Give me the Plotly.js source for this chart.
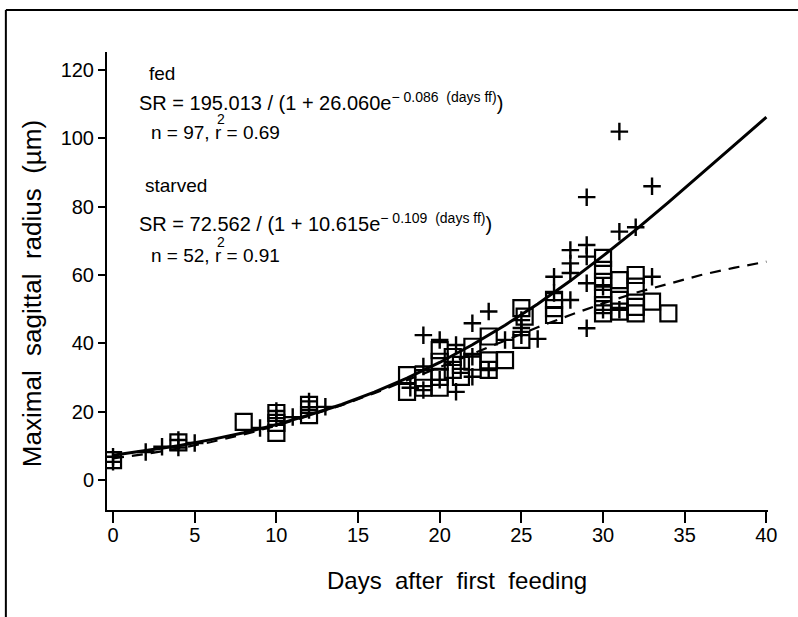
<!DOCTYPE html>
<html>
<head>
<meta charset="utf-8">
<script src="https://cdn.plot.ly/plotly-3.0.1.min.js"></script>
<style>html,body{margin:0;padding:0;background:#fff;}#chart{width:798px;height:617px;}</style>
</head>
<body>
<div id="chart"></div>
<script>
// Fed larvae (crosses)
var fedDays = [0, 0, 2, 3, 4, 4, 5, 9, 10, 10, 11, 12, 12, 13,
  18.2, 19, 19, 19, 20, 20, 21, 21, 22, 22, 22, 23, 23, 24, 25, 25, 25, 26,
  27, 27, 28, 28, 28, 28, 29, 29, 29, 29, 29, 30, 30, 31, 31, 31, 32, 33, 33];
var fedSR = [5.3, 6.8, 8.2, 9.7, 11.7, 9.5, 10.8, 15.2, 18.1, 20.2, 18.4, 20.5, 23, 21.4,
  27, 42.4, 33.2, 26.3, 41, 29.3, 39.5, 25.8, 45.9, 36.1, 30.2, 49.3, 32.2, 41, 46.8, 42.4, 44.5, 41.3,
  59.5, 54.7, 67.3, 63.4, 60.6, 52.7, 68.8, 65.4, 57.6, 44.4, 82.8, 56.6, 49.8, 49.8, 72.7, 102, 74, 59.5, 86];
// Starved larvae (squares)
var starvedDays = [0, 4, 8, 10, 10, 10, 12, 12,
  18, 18, 19, 19, 20, 20, 20, 20, 20.8, 20.8, 21.3, 21.3, 22, 22, 23, 23, 23, 24, 25, 25, 25.2,
  27, 27, 27, 30, 30, 30, 30, 30, 30, 31, 31, 31, 32, 32, 32, 32, 33, 34];
var starvedSR = [5.8, 11, 17, 19.6, 16.7, 13.8, 22, 19,
  30.7, 25.8, 29.8, 27, 38, 34.6, 30.2, 27, 36, 32.2, 33.7, 30.2, 39, 34.6, 42, 35, 32.2, 35.1, 50.3, 41, 47.8,
  50.3, 48.3, 52.7, 65, 61.5, 58, 54.7, 51.2, 48.8, 58.5, 52.7, 49.3, 60, 56.6, 50.7, 48.8, 52.2, 48.8];
// Fitted curves
var fitDays = [0, 2, 4, 6, 8, 10, 12, 14, 16, 18, 20, 22, 24, 26, 28, 30, 32, 34, 36, 38, 40];
var fedFit = [7.2, 8.5, 10.0, 11.8, 13.8, 16.2, 19.0, 22.1, 25.7, 29.8, 34.4, 39.6, 45.3, 51.5, 58.3, 65.6, 73.2, 81.3, 89.5, 97.9, 106.2];
var starvedFit = [6.3, 7.6, 9.2, 11.1, 13.3, 15.9, 18.8, 21.9, 25.4, 29.1, 33.0, 36.9, 40.9, 44.7, 48.3, 51.7, 54.8, 57.5, 60.0, 62.1, 63.9];
var xTicks = [0, 5, 10, 15, 20, 25, 30, 35, 40];
var yTicks = [0, 20, 40, 60, 80, 100, 120];

var FONT = 'Liberation Sans, Arial, Helvetica, sans-serif';

var traces = [
  {x: fitDays, y: starvedFit, mode: 'lines', line: {color: '#000', width: 2.2, dash: '11px,8px'}, hoverinfo: 'skip'},
  {x: fitDays, y: fedFit, mode: 'lines', line: {color: '#000', width: 3}, hoverinfo: 'skip'},
  {x: starvedDays, y: starvedSR, mode: 'markers',
   marker: {symbol: 'square-open', size: 16, color: '#000', line: {color: '#000', width: 2.2}}},
  {x: fedDays, y: fedSR, mode: 'markers',
   marker: {symbol: 'cross-thin-open', size: 12.5, color: '#000', line: {color: '#000', width: 2.4}}}
];

function ann(text, x, y, size, extra) {
  var a = {text: text, x: x, y: y, xref: 'x', yref: 'y', showarrow: false,
    xanchor: 'left', yanchor: 'middle', font: {family: FONT, size: size, color: '#000'}};
  for (var k in extra) a[k] = extra[k];
  return a;
}

var layout = {
  width: 798, height: 617,
  margin: {l: 107, r: 30, t: 52, b: 107},
  paper_bgcolor: '#fff', plot_bgcolor: '#fff',
  showlegend: false,
  xaxis: {
    range: [-0.37, 40.1], tickvals: xTicks, ticktext: xTicks.map(String),
    showgrid: false, zeroline: false, showline: true, linecolor: '#000', linewidth: 2,
    ticks: 'outside', ticklen: 11, tickwidth: 2, tickcolor: '#000', ticklabelstandoff: -5,
    tickfont: {family: FONT, size: 20, color: '#000'}
  },
  yaxis: {
    range: [-8.8, 125.3], tickvals: yTicks, ticktext: yTicks.map(String),
    showgrid: false, zeroline: false, showline: true, linecolor: '#000', linewidth: 2,
    ticks: 'outside', ticklen: 7, tickwidth: 2, tickcolor: '#000',
    tickfont: {family: FONT, size: 20, color: '#000'}
  },
  annotations: [
    ann('fed', 2.1, 119.1, 19),
    ann('SR = 195.013 / (1 + 26.060e<sup>− 0.086  (days ff)</sup>)', 1.45, 110.9, 20),
    ann('n = 97, r = 0.69', 2.2, 101.7, 19),
    ann('2', 6.6, 105.8, 14, {xanchor: 'center', borderpad: 0}),
    ann('starved', 1.85, 86.3, 19),
    ann('SR = 72.562 / (1 + 10.615e<sup>− 0.109  (days ff)</sup>)', 1.45, 75.5, 20),
    ann('n = 52, r = 0.91', 2.2, 65.8, 19),
    ann('2', 6.6, 69.8, 14, {xanchor: 'center', borderpad: 0}),
    {text: 'Days  after  first  feeding', xref: 'paper', yref: 'paper', x: 0.53, y: -0.155,
     xanchor: 'center', yanchor: 'middle', showarrow: false,
     font: {family: FONT, size: 24, color: '#000'}},
    {text: 'Maximal  sagittal  radius  (µm)', xref: 'paper', yref: 'paper', x: -0.113, y: 0.472,
     xanchor: 'center', yanchor: 'middle', showarrow: false, textangle: -90,
     font: {family: FONT, size: 26, color: '#000'}}
  ],
  shapes: [
    {type: 'line', xref: 'paper', yref: 'paper', x0: -0.153, x1: -0.153, y0: 1.0917, y1: -0.24,
     line: {color: '#000', width: 2}},
    {type: 'line', xref: 'paper', yref: 'paper', x0: -0.153, x1: 1.05, y0: 1.0917, y1: 1.0917,
     line: {color: '#000', width: 2}}
  ]
};

Plotly.newPlot('chart', traces, layout, {staticPlot: true, displayModeBar: false});
</script>
</body>
</html>
